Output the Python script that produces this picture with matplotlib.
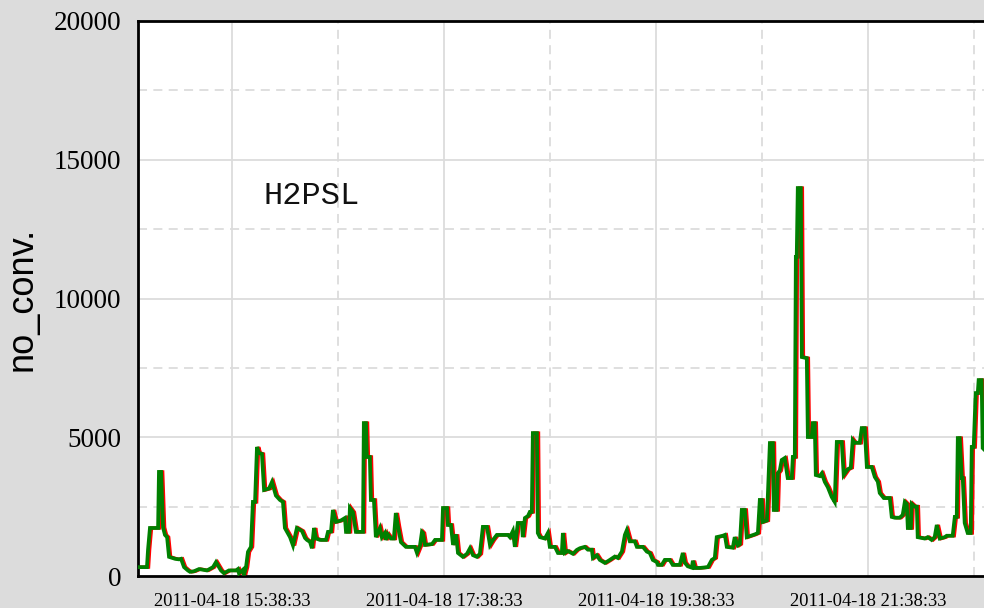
import matplotlib
matplotlib.use("Agg")
import matplotlib.pyplot as plt
import matplotlib.transforms as mtransforms
import pandas as pd

# ---- data ----
base_time = "2011-04-18 14:45:00"
minutes = [0.9, 5.4, 6.0, 7.1, 11.7, 12.2, 13.4, 14.5, 15.6, 16.8, 17.9, 21.3, 23.5, 24.7, 26.4,
           28.6, 29.8, 32.0, 34.9, 39.4, 42.8, 44.5, 47.3, 49.0, 51.8, 55.8, 56.9, 57.5, 59.8, 60.3,
           61.5, 62.6, 64.3, 65.4, 66.6, 67.7, 68.8, 70.5, 71.7, 74.5, 76.2, 78.4, 80.7, 82.4, 83.5,
           86.4, 88.1, 90.3, 93.2, 94.9, 96.0, 97.7, 98.8, 100.0, 101.1, 103.4, 106.8, 107.9, 109.6,
           110.7, 112.4, 115.2, 117.5, 118.1, 119.8, 120.3, 122.0, 123.7, 127.7, 128.2, 129.4, 129.9,
           131.6, 132.2, 133.9, 135.0, 137.3, 138.4, 140.1, 140.7, 141.8, 143.5, 145.2, 146.3, 147.5,
           149.2, 152.0, 157.1, 158.3, 160.0, 161.1, 161.7, 162.8, 166.8, 168.5, 172.4, 173.0, 175.3,
           175.8, 177.5, 178.7, 180.4, 181.5, 184.3, 186.6, 188.3, 190.0, 192.2, 193.9, 195.6, 197.9,
           199.6, 201.3, 203.5, 206.9, 209.8, 210.9, 212.6, 213.7, 215.4, 217.7, 218.2, 219.4, 221.1,
           222.2, 223.3, 223.9, 226.2, 226.7, 227.9, 230.7, 232.4, 233.5, 236.4, 238.1, 240.3, 240.9,
           242.0, 243.7, 246.6, 248.8, 250.5, 253.3, 255.0, 257.3, 257.9, 260.1, 261.8, 264.7, 267.5,
           270.3, 272.0, 274.3, 276.0, 277.1, 278.8, 281.6, 282.8, 286.2, 288.4, 290.1, 291.8, 294.1,
           294.7, 296.9, 298.6, 301.4, 303.1, 307.1, 308.8, 309.9, 311.6, 313.9, 314.5, 315.6, 318.4,
           323.0, 325.2, 326.9, 328.0, 331.4, 332.6, 333.7, 337.1, 338.2, 339.9, 341.1, 342.2, 343.9,
           345.0, 349.6, 351.3, 352.4, 353.5, 354.1, 356.4, 358.1, 359.8, 360.3, 362.0, 362.6, 363.7,
           364.8, 366.5, 368.2, 370.5, 371.1, 372.2, 372.8, 373.3, 373.9, 375.6, 376.2, 379.0, 379.6,
           381.8, 382.4, 383.5, 384.1, 386.3, 387.5, 389.2, 390.9, 393.1, 394.8, 396.0, 398.8, 399.9,
           402.2, 403.9, 405.0, 406.2, 409.0, 410.1, 411.8, 413.0, 415.8, 417.5, 419.2, 420.3, 422.6,
           426.0, 427.1, 428.8, 431.6, 433.3, 434.5, 435.6, 436.2, 437.9, 438.4, 440.1, 441.3, 441.8,
           445.8, 447.5, 449.7, 451.4, 452.6, 454.3, 457.1, 458.2, 461.6, 462.8, 463.9, 464.5, 465.6,
           466.7, 467.3, 468.4, 470.1, 471.8, 472.4, 473.5, 474.6, 475.8, 476.3, 478.0, 478.6, 480.3]
no_conv = [320, 320, 940, 1730, 1730, 3750, 3750, 1750, 1480, 1400, 690, 620, 600, 620, 320,
           200, 150, 170, 250, 200, 320, 500, 200, 100, 200, 200, 250, 100, 230, 30,
           320, 870, 1050, 2670, 2670, 4650, 4430, 4400, 3100, 3150, 3390, 2900, 2740, 2670, 1730,
           1400, 1100, 1730, 1620, 1370, 1300, 1230, 1000, 1730, 1350, 1300, 1300, 1590, 1600,
           2380, 1950, 2000, 2090, 1590, 1590, 2450, 2300, 1590, 1590, 5510, 5510, 4290,
           4290, 2740, 2740, 1400, 1730, 1400, 1550, 1300, 1500, 1350, 1350, 2270, 1800,
           1220, 1050, 1050, 830, 1100, 1590, 1550, 1120, 1150, 1300, 1300, 2450, 2450,
           1840, 1840, 1120, 1500, 830, 690, 800, 1000, 750, 690, 800, 1770, 1770,
           1120, 1300, 1480, 1480, 1480, 1400, 1620, 1050, 1910, 1910, 1400, 2090, 2160,
           2310, 2310, 5150, 5150, 1550, 1400, 1350, 1550, 1050, 1050, 830, 830, 1550,
           830, 900, 800, 940, 1000, 1050, 950, 950, 650, 750, 580, 470, 580,
           700, 650, 880, 1480, 1650, 1250, 1250, 1050, 1050, 880, 830, 580, 500,
           400, 400, 580, 580, 400, 400, 830, 480, 350, 300, 550, 290, 290,
           320, 580, 650, 1400, 1450, 1480, 1050, 1020, 1400, 1100, 1150, 2380, 2380,
           1400, 1500, 1550, 2740, 2740, 1950, 2000, 4790, 4790, 2380, 2380, 3710, 3800,
           4180, 4250, 3530, 3530, 4290, 4290, 11500, 11500, 13980, 13980, 7890, 7850, 5010,
           5010, 5510, 5510, 3640, 3600, 3700, 3390, 3200, 2850, 2670, 4830, 4830, 3640,
           3850, 3900, 4900, 4800, 4800, 5330, 5330, 3930, 3930, 3570, 3400, 2990, 2810,
           2810, 2130, 2100, 2100, 2200, 2670, 2600, 1730, 1730, 2600, 2500, 2500, 1400,
           1350, 1400, 1300, 1400, 1840, 1350, 1400, 1450, 1450, 2130, 2130, 4970, 4970,
           3530, 3530, 1910, 1550, 1550, 4650, 4650, 6590, 6590, 7060, 7060, 4610, 4500]
series_label = "H2PSL"
y_label = "no_conv."
major_ticks = ["2011-04-18 15:38:33", "2011-04-18 17:38:33",
               "2011-04-18 19:38:33", "2011-04-18 21:38:33"]
minor_ticks = ["2011-04-18 16:38:33", "2011-04-18 18:38:33",
               "2011-04-18 20:38:33", "2011-04-18 22:38:33"]
y_ticks = [0, 5000, 10000, 15000, 20000]
y_minor = [2500, 7500, 12500, 17500]
x_start = "2011-04-18 14:45:20"
x_end = "2011-04-18 22:44:20"

times = pd.Timestamp(base_time) + pd.to_timedelta(minutes, unit="m")

fig = plt.figure(figsize=(9.84, 6.08), dpi=100, facecolor="#dcdcdc")
ax = fig.add_axes([138 / 984, 32 / 608, 846 / 984, 555 / 608])
ax.set_facecolor("white")

grid_c = "#dcdcdc"
for t in major_ticks:
    ax.axvline(pd.Timestamp(t), color=grid_c, lw=1.3, zorder=0)
for t in minor_ticks:
    ax.axvline(pd.Timestamp(t), color=grid_c, lw=1.3, ls=(0, (5, 3.5)), zorder=0)
for v in y_ticks[1:-1]:
    ax.axhline(v, color=grid_c, lw=1.3, zorder=0)
for v in y_minor:
    ax.axhline(v, color=grid_c, lw=1.3, ls=(0, (5, 3.5)), zorder=0)

offset = mtransforms.ScaledTranslation(1.6 / 100, 0, fig.dpi_scale_trans)
ax.plot(times, no_conv, color="red", lw=2.4, solid_joinstyle="miter",
        transform=ax.transData + offset, zorder=2)
ax.plot(times, no_conv, color="#008000", lw=2.7, solid_joinstyle="miter", zorder=3)

ax.set_xlim(pd.Timestamp(x_start), pd.Timestamp(x_end))
ax.set_ylim(0, 20000)
ax.set_xticks([pd.Timestamp(t) for t in major_ticks])
ax.set_xticklabels(major_ticks, family="Liberation Serif", fontsize=13.3)
ax.set_yticks(y_ticks)
ax.set_yticklabels([str(v) for v in y_ticks], family="Liberation Serif", fontsize=19.5)
ax.tick_params(axis="both", length=0)
ax.tick_params(axis="y", pad=12)
ax.tick_params(axis="x", pad=12)

ax.set_ylabel(y_label, family="Liberation Sans", fontsize=26, va="center")
ax.yaxis.set_label_coords(-0.137, 0.50)

for s in ["left", "top", "bottom"]:
    ax.spines[s].set_linewidth(2)
    ax.spines[s].set_color("black")
ax.spines["right"].set_visible(False)

ax.text(0.148, 0.684, series_label, transform=ax.transAxes, family="Liberation Mono",
        fontsize=23, va="center", ha="left", color="#111111")

fig.savefig("out.png", dpi=100, facecolor=fig.get_facecolor())
